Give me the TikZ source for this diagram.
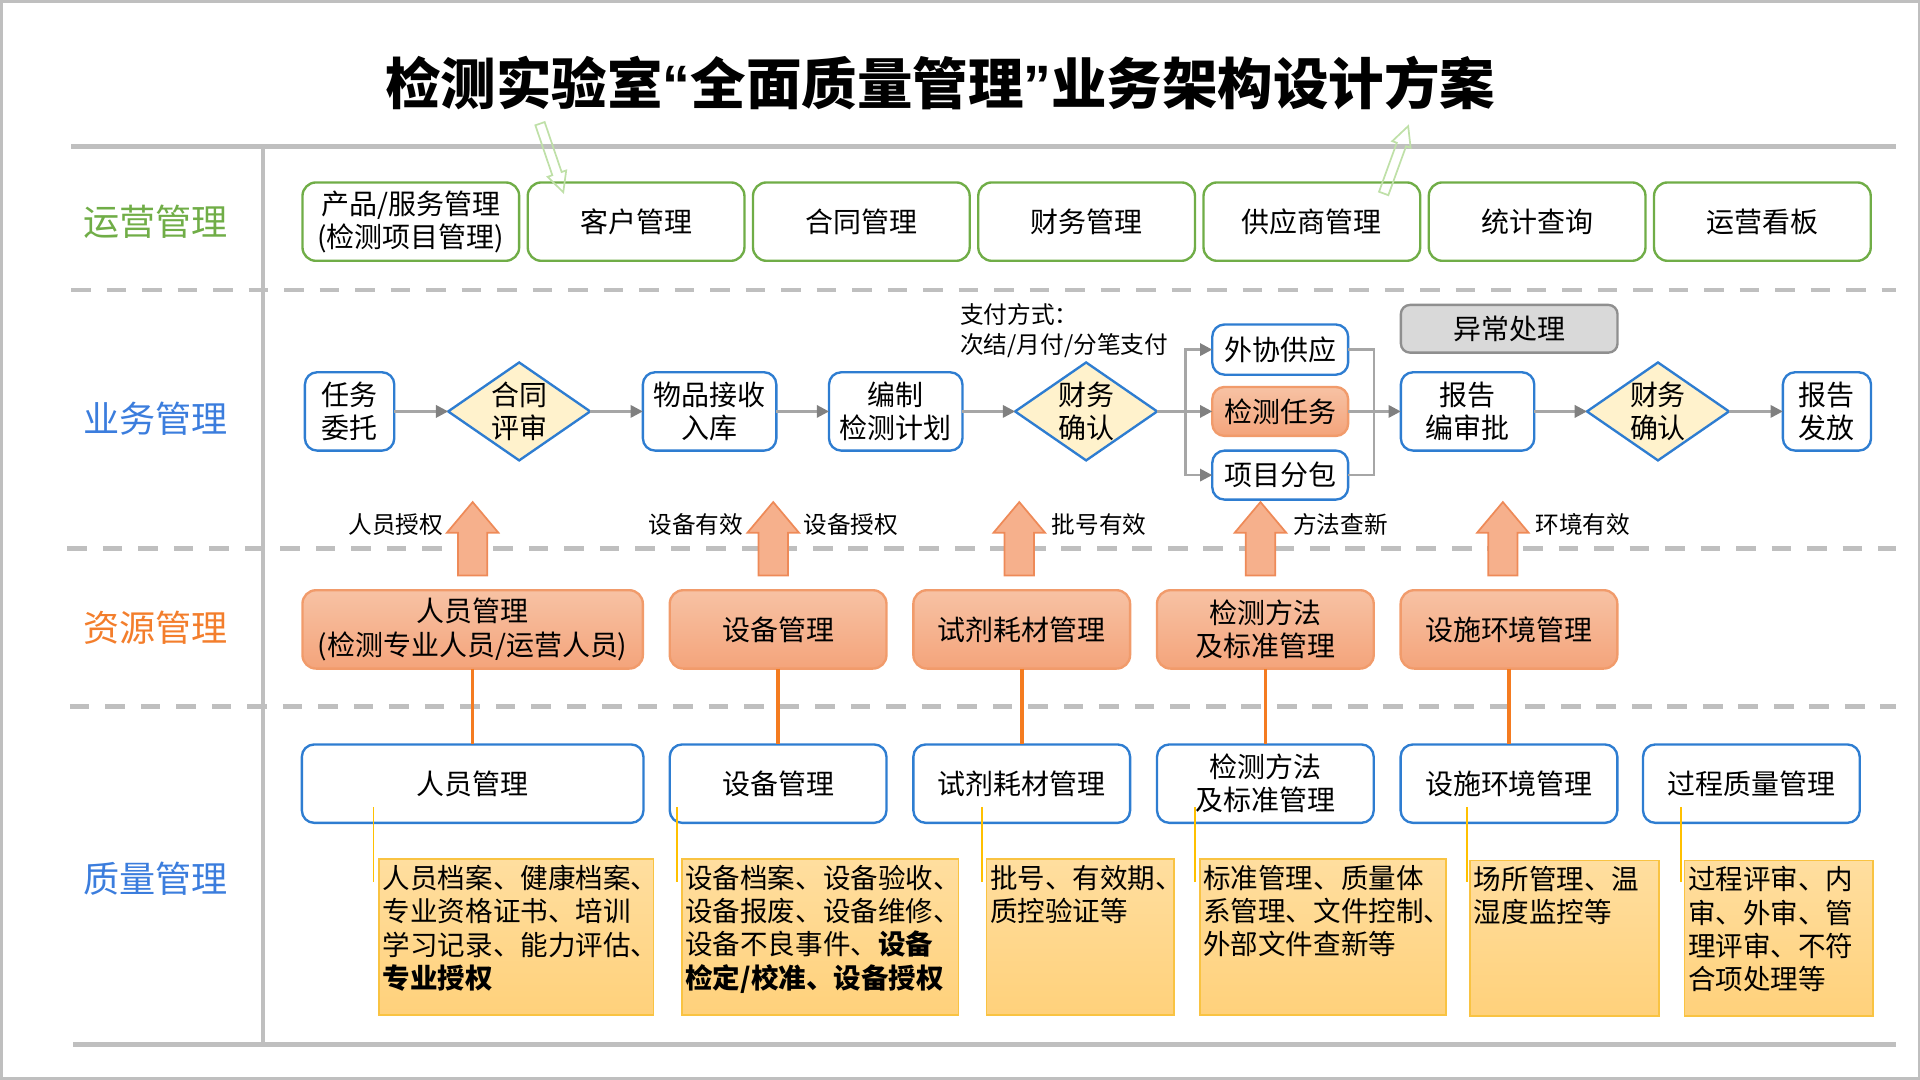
\documentclass[tikz,border=0pt]{standalone}
\usepackage{fontspec}
\setmainfont{Noto Sans CJK SC}
\newfontfamily\quotefont{Liberation Sans}
\usetikzlibrary{arrows.meta, positioning, shapes.geometric, calc}

\definecolor{opgreen}{HTML}{70AD47}
\definecolor{bizblue}{HTML}{3B7DDD}
\definecolor{resorange}{HTML}{F37E2C}
\definecolor{flowblue}{HTML}{2E7DD1}
\definecolor{decfill}{HTML}{FFF2CC}
\definecolor{linegray}{HTML}{A6A6A6}
\definecolor{tipgray}{HTML}{808080}
\definecolor{sepgray}{HTML}{BFBFBF}
\definecolor{restop}{HTML}{F7C2A4}
\definecolor{resbot}{HTML}{F4A47B}
\definecolor{resdraw}{HTML}{F19B6B}
\definecolor{linkorange}{HTML}{F47B20}
\definecolor{notetop}{HTML}{FFDE9F}
\definecolor{notebot}{HTML}{FFD17B}
\definecolor{notedraw}{HTML}{F9C342}
\definecolor{pointc}{HTML}{FFC000}
\definecolor{excfill}{HTML}{D9D9D9}
\definecolor{excdraw}{HTML}{8F8F8F}
\definecolor{ghostgreen}{HTML}{BFE0A8}
\definecolor{upfill}{HTML}{F6B08C}
\definecolor{updraw}{HTML}{EE8A58}

\begin{document}
\begin{tikzpicture}[
    x=0.02cm, y=-0.02cm,
    heading/.style={font=\fontsize{25.8}{30}\selectfont\bfseries},
    lane/.style={font=\fontsize{16.8}{20}\selectfont},
    opbox/.style={draw=opgreen, line width=1.1pt, fill=white, rounded corners=0.22cm, minimum width=3.54cm, minimum height=1.28cm, inner sep=1pt, outer sep=0pt, align=center, font=\fontsize{13}{15.4}\selectfont},
    flowbox/.style={draw=flowblue, line width=1.1pt, fill=white, rounded corners=0.2cm, minimum height=1.28cm, inner sep=1pt, outer sep=0pt, align=center, font=\fontsize{13}{15.4}\selectfont},
    decision/.style={diamond, aspect=1.45, draw=flowblue, line width=1.1pt, fill=decfill, minimum width=2.32cm, minimum height=1.6cm, inner sep=0pt, outer sep=0pt, align=center, font=\fontsize{13}{15.4}\selectfont},
    taskbox/.style={flowbox, draw=resdraw, top color=restop, bottom color=resbot, minimum width=2.22cm, minimum height=0.8cm},
    excbox/.style={draw=excdraw, line width=1.1pt, fill=excfill, rounded corners=0.15cm, minimum width=3.54cm, minimum height=0.78cm, outer sep=0pt, font=\fontsize{13}{15.4}\selectfont},
    resbox/.style={draw=resdraw, line width=1.1pt, top color=restop, bottom color=resbot, rounded corners=0.22cm, minimum width=3.54cm, minimum height=1.28cm, inner sep=1pt, outer sep=0pt, align=center, font=\fontsize{13}{15.4}\selectfont},
    qbox/.style={flowbox, minimum width=3.54cm},
    note/.style={draw=notedraw, line width=0.8pt, top color=notetop, bottom color=notebot, anchor=north west, inner xsep=0.06cm, inner ysep=0.1cm, font=\fontsize{12.8}{15.4}\selectfont},
    hint/.style={inner sep=1pt, font=\fontsize{11}{14.2}\selectfont},
    flow/.style={draw=linegray, line width=1.2pt, -{Triangle[length=0.2cm, width=0.2cm, color=tipgray]}},
    joint/.style={draw=linegray, line width=1.2pt},
    link/.style={draw=linkorange, line width=1.7pt},
    noteline/.style={draw=pointc, line width=0.7pt},
    uparrow/.style={draw=updraw, line width=0.8pt, fill=upfill},
    ghost/.style={draw=ghostgreen, line width=0.8pt},
    outline/.style={draw=sepgray, line width=1.2pt},
    solidsep/.style={draw=sepgray, line width=2.3pt},
    dashsep/.style={draw=sepgray, line width=2pt, dash pattern=on 0.32cm off 0.26cm}
  ]
    \useasboundingbox (0,0) rectangle (1568,882);
    \draw[outline] (1,1) rectangle (1567,881);

    % frame lines
    \draw[solidsep] (58,120) -- (1548,120);
    \draw[solidsep] (60,853) -- (1548,853);
    \draw[solidsep, line width=1.7pt] (215,120) -- (215,853);
    \draw[dashsep] (58,237) -- (1548,237);
    \draw[dashsep] (55,448) -- (1548,448);
    \draw[dashsep] (57,577) -- (1548,577);

    \node[heading] (ttl) at (768,68) {检测实验室{\quotefont“}全面质量管理{\quotefont”}业务架构设计方案};

    \node[lane, text=opgreen] (lop) at (127,181) {运营管理};
    \node[lane, text=bizblue] (lbiz) at (127,342) {业务管理};
    \node[lane, text=resorange] (lres) at (127,513) {资源管理};
    \node[lane, text=bizblue] (lqa) at (127,718) {质量管理};

    % operations
    \node[opbox] (prod) at (335.5,181) {产品/服务管理\\(检测项目管理)};
    \node[opbox, right=0.14cm of prod] (cust) {客户管理};
    \node[opbox, right=0.14cm of cust] (contr) {合同管理};
    \node[opbox, right=0.14cm of contr] (fin) {财务管理};
    \node[opbox, right=0.14cm of fin] (supp) {供应商管理};
    \node[opbox, right=0.14cm of supp] (stat) {统计查询};
    \node[opbox, right=0.14cm of stat] (board) {运营看板};

    \draw[ghost] (437.2,102.3) -- (451.05,143.1) -- (447.26,144.4) -- (460,157) -- (462.4,139.2) -- (458.65,140.5) -- (444.8,99.7) -- cycle;
    \draw[ghost] (1133.8,159.4) -- (1148.3,119.4) -- (1152.0,120.7) -- (1150,103) -- (1137.0,115.3) -- (1140.7,116.6) -- (1126.2,156.6) -- cycle;

    % business flow
    \node[flowbox, minimum width=1.46cm] (entr) at (285.5,336) {任务\\委托};
    \node[decision] (review) at (424,336) {合同\\评审};
    \node[flowbox, minimum width=2.18cm] (recv) at (579.5,336) {物品接收\\入库};
    \node[flowbox, minimum width=2.18cm] (plan) at (731.5,336) {编制\\检测计划};
    \node[decision] (pay1) at (887,336) {财务\\确认};
    \node[hint, anchor=west, align=left] (payway) at (782,270) {支付方式：\\次结/月付/分笔支付};
    \node[flowbox, minimum width=2.22cm, minimum height=0.82cm] (outs) at (1045.5,285.5) {外协供应};
    \node[taskbox] (task) at (1045.5,336) {检测任务};
    \node[flowbox, minimum width=2.22cm, minimum height=0.8cm] (subc) at (1045.5,388) {项目分包};
    \node[excbox] (exc) at (1232.5,268.5) {异常处理};
    \node[flowbox, minimum width=2.18cm] (rep) at (1198.5,336) {报告\\编审批};
    \node[decision] (pay2) at (1354,336) {财务\\确认};
    \node[flowbox, minimum width=1.44cm] (issue) at (1492,336) {报告\\发放};
    \coordinate (split) at (968,336);
    \coordinate (merge) at (1122,336);

    \draw[flow] (entr) -- (review);
    \draw[flow] (review) -- (recv);
    \draw[flow] (recv) -- (plan);
    \draw[flow] (plan) -- (pay1);
    \draw[flow] (pay1) -- (task);
    \draw[flow] (split) |- (outs);
    \draw[flow] (split) |- (subc);
    \draw[joint] (outs) -| (merge);
    \draw[joint] (subc) -| (merge);
    \draw[flow] (task) -- (rep);
    \draw[flow] (rep) -- (pay2);
    \draw[flow] (pay2) -- (issue);

    % resources
    \node[resbox, minimum width=5.56cm] (hr) at (386,514) {人员管理\\(检测专业人员/运营人员)};
    \node[resbox, right=0.44cm of hr] (equip) {设备管理};
    \node[resbox, right=0.44cm of equip] (reag) {试剂耗材管理};
    \node[resbox, right=0.44cm of reag] (meth) {检测方法\\及标准管理};
    \node[resbox, right=0.44cm of meth] (fac) {设施环境管理};

    \draw[uparrow] ($(hr.north)+(-12,-12)$) -- ++(0,-35) -- ++(-9,0) -- ++(21,-25) -- ++(21,25) -- ++(-9,0) -- ++(0,35) -- cycle;
    \draw[uparrow] ($(equip.north)+(-16,-12)$) -- ++(0,-35) -- ++(-9,0) -- ++(21,-25) -- ++(21,25) -- ++(-9,0) -- ++(0,35) -- cycle;
    \draw[uparrow] ($(reag.north)+(-14,-12)$) -- ++(0,-35) -- ++(-9,0) -- ++(21,-25) -- ++(21,25) -- ++(-9,0) -- ++(0,35) -- cycle;
    \draw[uparrow] ($(meth.north)+(-16,-12)$) -- ++(0,-35) -- ++(-9,0) -- ++(21,-25) -- ++(21,25) -- ++(-9,0) -- ++(0,35) -- cycle;
    \draw[uparrow] ($(fac.north)+(-17,-12)$) -- ++(0,-35) -- ++(-9,0) -- ++(21,-25) -- ++(21,25) -- ++(-9,0) -- ++(0,35) -- cycle;

    \node[hint, anchor=east] (auth1) at (364,428) {人员授权};
    \node[hint, anchor=east] (valid1) at (609,428) {设备有效};
    \node[hint, anchor=west] (auth2) at (654,428) {设备授权};
    \node[hint, anchor=west] (valid2) at (857,428) {批号有效};
    \node[hint, anchor=west] (renew) at (1054,428) {方法查新};
    \node[hint, anchor=west] (valid3) at (1252,428) {环境有效};

    % quality
    \node[qbox, minimum width=5.58cm, below=1.24cm of hr] (qhr) {人员管理};
    \node[qbox, below=1.24cm of equip] (qequip) {设备管理};
    \node[qbox, below=1.24cm of reag] (qreag) {试剂耗材管理};
    \node[qbox, below=1.24cm of meth] (qmeth) {检测方法\\及标准管理};
    \node[qbox, below=1.24cm of fac] (qfac) {设施环境管理};
    \node[qbox, right=0.42cm of qfac] (qproc) {过程质量管理};

    \draw[link] (hr) -- (qhr);
    \draw[link] (equip) -- (qequip);
    \draw[link] (reag) -- (qreag);
    \draw[link] (meth) -- (qmeth);
    \draw[link] (fac) -- (qfac);

    \node[note] (nhr) at (309,701) {\parbox[t][2.34cm][t]{4.36cm}{人员档案、健康档案、\\专业资格证书、培训\\学习记录、能力评估、\\\textbf{专业授权}}};
    \node[note] (nequip) at (556,701) {\parbox[t][2.34cm][t]{4.40cm}{设备档案、设备验收、\\设备报废、设备维修、\\设备不良事件、\textbf{设备}\\\textbf{检定/校准、设备授权}}};
    \node[note] (nreag) at (805,701) {\parbox[t][2.34cm][t]{2.94cm}{批号、有效期、\\质控验证等}};
    \node[note] (nmeth) at (979,701) {\parbox[t][2.34cm][t]{3.90cm}{标准管理、质量体\\系管理、文件控制、\\外部文件查新等}};
    \node[note] (nfac) at (1200,702) {\parbox[t][2.34cm][t]{2.96cm}{场所管理、温\\湿度监控等}};
    \node[note] (nproc) at (1375,702) {\parbox[t][2.34cm][t]{2.96cm}{过程评审、内\\审、外审、管\\理评审、不符\\合项处理等}};

    \draw[noteline] (nhr.north west) ++(-4,-42) -- ++(0,61);
    \draw[noteline] (nequip.north west) ++(-3,-42) -- ++(0,61);
    \draw[noteline] (nreag.north west) ++(-3,-42) -- ++(0,61);
    \draw[noteline] (nmeth.north west) ++(-3,-42) -- ++(0,61);
    \draw[noteline] (nfac.north west) ++(-2,-43) -- ++(0,61);
    \draw[noteline] (nproc.north west) ++(-2,-43) -- ++(0,61);
  \end{tikzpicture}
\end{document}
